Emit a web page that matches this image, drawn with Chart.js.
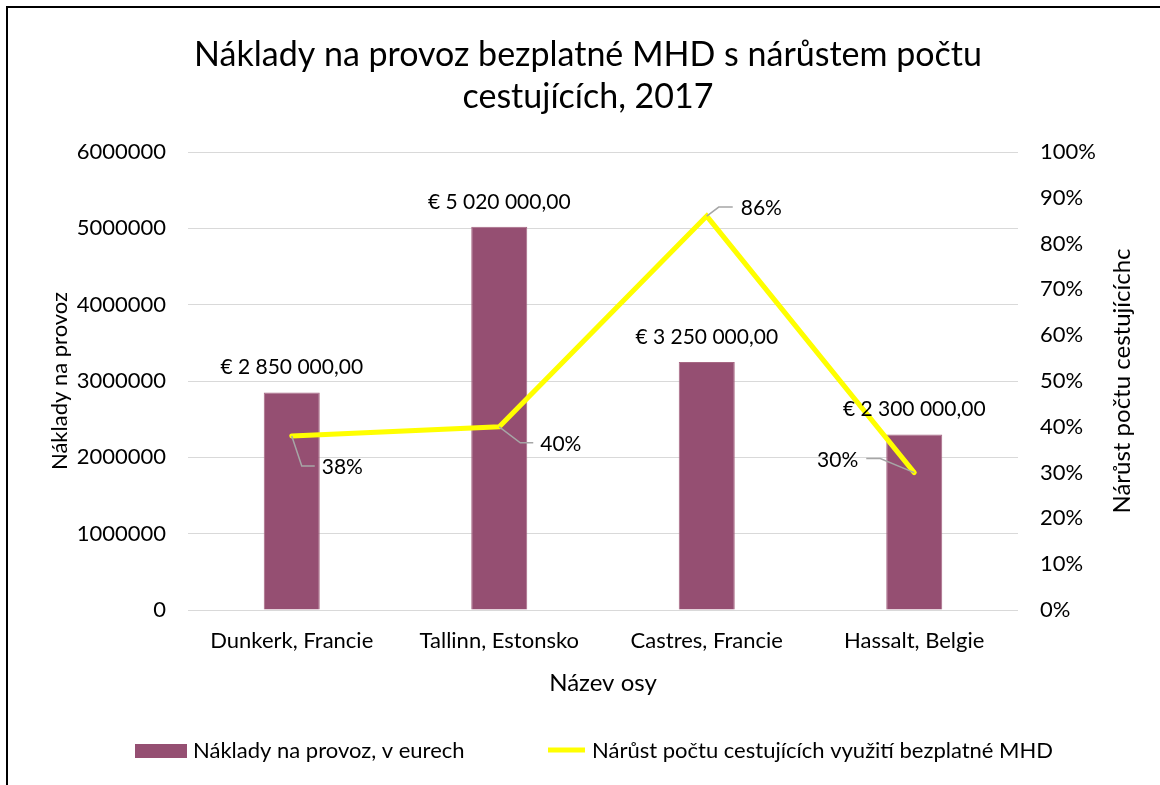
<!DOCTYPE html>
<html>
<head>
<meta charset="utf-8">
<script src="https://cdn.jsdelivr.net/npm/chart.js@4.4.0/dist/chart.umd.min.js"></script>
<style>
  html, body { margin: 0; padding: 0; background: #fff; }
</style>
</head>
<body>
<canvas id="chart" width="1160" height="785"></canvas>
<script>
// data
const cities = ['Dunkerk, Francie', 'Tallinn, Estonsko', 'Castres, Francie', 'Hassalt, Belgie'];
const costs = [2850000, 5020000, 3250000, 2300000];
const growth = [38, 40, 86, 30];
const titleLines = ['Náklady na provoz bezplatné MHD s nárůstem počtu', 'cestujících, 2017'];
const costLabel = 'Náklady na provoz, v eurech';
const growthLabel = 'Nárůst počtu cestujících využití bezplatné MHD';

const FONT = 'Lato, "Open Sans", sans-serif';
const BAR = '#954F72';
const LINE = '#FFFF00';

// where each % label sits relative to its point: [elbow dx, dy, end dx, text dx, text dy, align]
const pctOffsets = [
  [10, 30, 23, 30, 1, 'left'],
  [21, 16, 34, 41, 1, 'left'],
  [12, -9, 26, 34, 1, 'left'],
  [-34, -14, -48, -56, 2, 'right']
];

function eur(v) {
  const parts = v.toFixed(2).split('.');
  return '€ ' + parts[0].replace(/\B(?=(\d{3})+(?!\d))/g, ' ') + ',' + parts[1];
}

const extras = {
  id: 'extras',
  afterDatasetsDraw(chart) {
    const ctx = chart.ctx;
    ctx.save();
    ctx.fillStyle = '#000';
    ctx.textBaseline = 'middle';

    // bar value labels
    ctx.font = '21px ' + FONT;
    ctx.textAlign = 'center';
    chart.getDatasetMeta(1).data.forEach((bar, i) => {
      ctx.fillText(eur(costs[i]), bar.x, bar.y - 25);
    });

    // line value labels with leader lines
    chart.getDatasetMeta(0).data.forEach((pt, i) => {
      const o = pctOffsets[i];
      ctx.strokeStyle = '#a6a6a6';
      ctx.lineWidth = 1.5;
      ctx.beginPath();
      ctx.moveTo(pt.x, pt.y);
      ctx.lineTo(pt.x + o[0], pt.y + o[1]);
      ctx.lineTo(pt.x + o[2], pt.y + o[1]);
      ctx.stroke();
      ctx.textAlign = o[5];
      ctx.fillText(growth[i] + '%', pt.x + o[3], pt.y + o[1] + o[4]);
    });
    ctx.restore();
  },
  afterDraw(chart) {
    const ctx = chart.ctx;
    const a = chart.chartArea;
    ctx.save();
    ctx.fillStyle = '#000';
    ctx.textBaseline = 'middle';

    // title
    ctx.textAlign = 'center';
    ctx.font = '34px ' + FONT;
    ctx.fillText(titleLines[0], 588, 55);
    ctx.fillText(titleLines[1], 588, 97);

    // axis titles
    ctx.font = '24px ' + FONT;
    ctx.fillText('Název osy', (a.left + a.right) / 2, 683);
    const midY = (a.top + a.bottom) / 2;
    ctx.save();
    ctx.translate(1122, midY);
    ctx.rotate(-Math.PI / 2);
    ctx.fillText('Nárůst počtu cestujícíchc', 0, 0);
    ctx.restore();
    ctx.font = '22px ' + FONT;
    ctx.save();
    ctx.translate(60, midY);
    ctx.rotate(-Math.PI / 2);
    ctx.fillText('Náklady na provoz', 0, 0);
    ctx.restore();

    // legend
    ctx.font = '22px ' + FONT;
    ctx.textAlign = 'left';
    ctx.fillStyle = BAR;
    ctx.fillRect(135, 744, 52, 14);
    ctx.fillStyle = '#000';
    ctx.fillText(costLabel, 193, 751);
    ctx.strokeStyle = LINE;
    ctx.lineWidth = 5;
    ctx.beginPath();
    ctx.moveTo(548, 750);
    ctx.lineTo(585, 750);
    ctx.stroke();
    ctx.fillText(growthLabel, 592, 751);

    // outer frame
    ctx.strokeStyle = '#000';
    ctx.lineWidth = 2;
    ctx.beginPath();
    ctx.moveTo(7, 800);
    ctx.lineTo(7, 7);
    ctx.lineTo(1170, 7);
    ctx.stroke();
    ctx.restore();
  }
};

new Chart(document.getElementById('chart'), {
  data: {
    labels: cities,
    datasets: [
      {
        type: 'line',
        label: growthLabel,
        data: growth,
        yAxisID: 'y1',
        borderColor: LINE,
        backgroundColor: LINE,
        borderWidth: 5,
        borderCapStyle: 'round',
        pointRadius: 0,
        tension: 0,
        order: 0
      },
      {
        type: 'bar',
        label: costLabel,
        data: costs,
        yAxisID: 'y',
        backgroundColor: BAR,
        borderColor: '#a76884',
        borderWidth: 1,
        categoryPercentage: 1,
        barPercentage: 0.27,
        order: 1
      }
    ]
  },
  options: {
    responsive: false,
    animation: false,
    devicePixelRatio: 1,
    layout: { padding: { top: 152, left: 0, right: 0, bottom: 0 } },
    plugins: {
      legend: { display: false },
      title: { display: false },
      tooltip: { enabled: false }
    },
    scales: {
      x: {
        grid: { display: false, drawTicks: false },
        border: { display: false },
        ticks: { color: '#000', font: { family: FONT, size: 22 }, padding: 18 },
        afterFit: s => { s.height = 175; }
      },
      y: {
        position: 'left',
        min: 0,
        max: 6000000,
        grid: { color: '#d9d9d9', drawTicks: false },
        border: { display: false },
        ticks: {
          stepSize: 1000000,
          color: '#000',
          font: { family: FONT, size: 22 },
          padding: 22,
          callback: v => String(v)
        },
        afterFit: s => { s.width = 188; }
      },
      y1: {
        position: 'right',
        min: 0,
        max: 100,
        grid: { display: false, drawTicks: false },
        border: { display: false },
        ticks: {
          stepSize: 10,
          color: '#000',
          font: { family: FONT, size: 22 },
          padding: 22,
          callback: v => v + '%'
        },
        afterFit: s => { s.width = 142; }
      }
    }
  },
  plugins: [extras]
});
</script>
</body>
</html>
